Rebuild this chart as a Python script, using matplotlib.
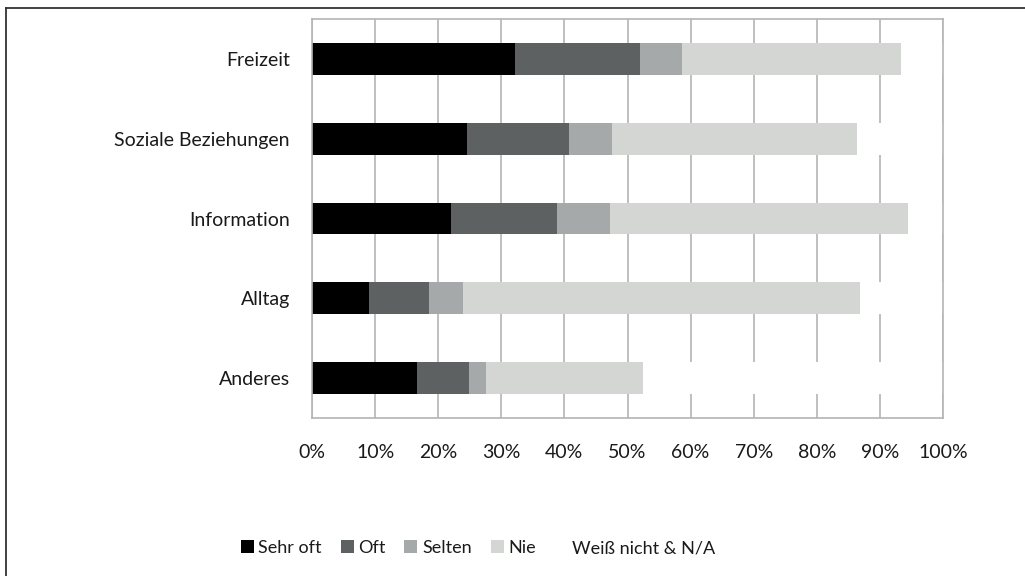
import matplotlib
matplotlib.use("Agg")
import matplotlib.pyplot as plt
from matplotlib.lines import Line2D
from matplotlib.ticker import FuncFormatter

# values (percent of respondents)
categories = ['Freizeit', 'Soziale Beziehungen', 'Information', 'Alltag', 'Anderes']
sehr_oft = [32.2, 24.6, 22.1, 9.1, 16.7]
oft = [19.8, 16.1, 16.8, 9.4, 8.2]
selten = [6.7, 6.8, 8.3, 5.4, 2.7]
nie = [34.6, 38.8, 47.2, 62.9, 24.9]
weiss_nicht = [6.7, 13.7, 5.6, 13.2, 47.5]

series = [sehr_oft, oft, selten, nie, weiss_nicht]
labels = ['Sehr oft', 'Oft', 'Selten', 'Nie', 'Weiß nicht & N/A']
colors = ['#000000', '#5e6161', '#a6a9a9', '#d4d6d4', '#ffffff']

plt.rcParams['font.family'] = ['Lato', 'DejaVu Sans']

fig = plt.figure(figsize=(10.25, 5.76), dpi=100)
ax = fig.add_axes([0.3044, 0.2743, 0.6156, 0.6927])

ypos = list(range(len(categories)))
left = [0.0] * len(categories)
for vals, lab, col in zip(series, labels, colors):
    ax.barh(ypos, vals, left=left, height=0.4, color=col, label=lab, zorder=2)
    left = [a + b for a, b in zip(left, vals)]

ax.set_xlim(0, 100)
ax.set_ylim(len(categories) - 0.5, -0.5)
ax.set_yticks(ypos)
ax.set_yticklabels(categories)
ax.set_xticks(range(0, 101, 10))
ax.xaxis.set_major_formatter(FuncFormatter(lambda v, p: f'{v:.0f}%'))
ax.grid(axis='x', color='#b4b4b4', linewidth=1.2, zorder=0)
ax.set_axisbelow(True)
ax.tick_params(axis='both', length=0, labelsize=14, colors='#1a1a1a')
ax.tick_params(axis='y', pad=16)
ax.tick_params(axis='x', pad=19)
for side in ['left', 'top', 'bottom', 'right']:
    ax.spines[side].set_color('#b4b4b4')
    ax.spines[side].set_linewidth(1.2)

handles, labs = ax.get_legend_handles_labels()
leg = fig.legend(handles, labs, ncol=5, loc='center', bbox_to_anchor=(478 / 1025, 1 - 548 / 576),
                 frameon=False, fontsize=13, handlelength=0.72, handleheight=0.72,
                 handletextpad=0.25, columnspacing=1.05)
for t in leg.get_texts():
    t.set_color('#1a1a1a')

# outer frame (right and bottom edges fall outside the image)
fig.add_artist(Line2D([6 / 1025, 6 / 1025], [0, 1 - 8 / 576], transform=fig.transFigure,
                      color='#333333', linewidth=1.3))
fig.add_artist(Line2D([6 / 1025, 1], [1 - 8 / 576, 1 - 8 / 576], transform=fig.transFigure,
                      color='#333333', linewidth=1.3))

fig.savefig('out.png', dpi=100)
